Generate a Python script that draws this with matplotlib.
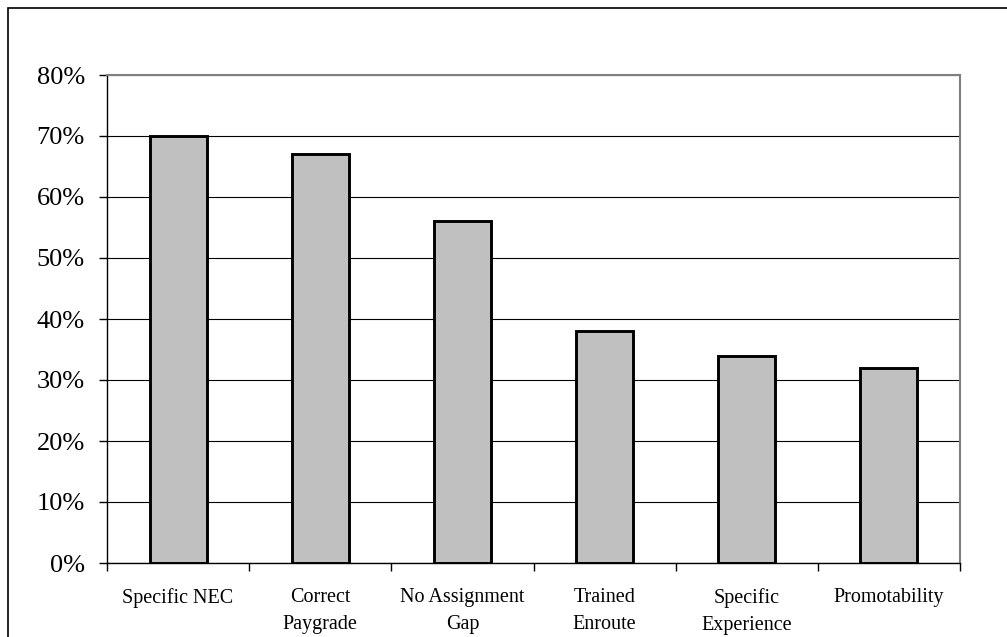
import matplotlib
matplotlib.use('Agg')
import matplotlib.pyplot as plt
from matplotlib.patches import Rectangle
from matplotlib.ticker import FixedLocator, FuncFormatter
import numpy as np

# share of billets where each criterion was met
criteria = ['Specific NEC', 'Correct\nPaygrade', 'No Assignment\nGap',
            'Trained\nEnroute', 'Specific\nExperience', 'Promotability']
percent = [70, 67, 56, 38, 34, 32]
yticks = [0, 10, 20, 30, 40, 50, 60, 70, 80]

plt.rcParams['font.family'] = ['Liberation Serif', 'DejaVu Serif']

fig = plt.figure(figsize=(10.07, 6.37), dpi=100)
ax = fig.add_axes([107 / 1007, 1 - 563 / 637, 853 / 1007, 488 / 637])

x = np.arange(len(criteria))
ax.bar(x, percent, width=0.4, color='#C0C0C0', edgecolor='black',
       linewidth=2.1, zorder=3)

ax.set_xlim(-0.5, len(criteria) - 0.5)
ax.set_ylim(0, 80)
ax.set_yticks(yticks)
ax.yaxis.set_major_formatter(FuncFormatter(lambda v, p: '%d%%' % v))
ax.tick_params(axis='y', labelsize=19, length=6, width=1, pad=10)

# category labels centred under bars, ticks between categories
ax.set_xticks(x)
ax.set_xticklabels(criteria, fontsize=14.5, linespacing=1.55, va='top')
ax.tick_params(axis='x', which='major', length=0, pad=18)
ax.xaxis.set_minor_locator(FixedLocator(np.arange(-0.5, len(criteria), 1)))
ax.tick_params(axis='x', which='minor', length=6, width=1)

ax.yaxis.grid(True, color='black', linewidth=0.8, zorder=0)
ax.spines['left'].set_linewidth(1)
ax.spines['bottom'].set_linewidth(1)
ax.spines['top'].set_color('#808080')
ax.spines['right'].set_color('#808080')
ax.spines['top'].set_linewidth(1.5)
ax.spines['right'].set_linewidth(1.5)

# border around the chart area
fig.add_artist(Rectangle((8 / 1007, -0.1), 1.2, 1 - 8 / 637 + 0.1,
                         transform=fig.transFigure, fill=False,
                         edgecolor='black', linewidth=1.2))

plt.savefig('out.png', dpi=100)
